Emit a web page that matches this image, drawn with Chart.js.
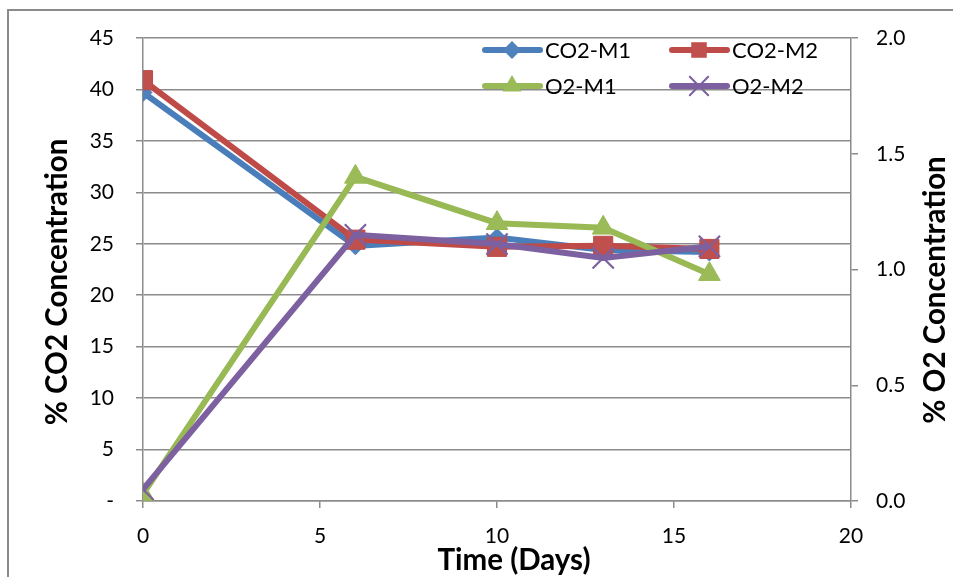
<!DOCTYPE html>
<html>
<head>
<meta charset="utf-8">
<title>CO2 / O2 concentration</title>
<script src="https://cdn.jsdelivr.net/npm/chart.js@4/dist/chart.umd.min.js"></script>
<style>
  html, body { margin: 0; padding: 0; background: #fff; }
  canvas { display: block; }
</style>
</head>
<body>
<canvas id="chart" width="953" height="577"></canvas>
<script>
// data
const days = [0, 6, 10, 13, 16];
const co2M1 = [39.7, 24.8, 25.6, 24.4, 24.2];
const co2M2 = [40.9, 25.4, 24.7, 24.8, 24.5];
const o2M1 = [0.03, 1.40, 1.20, 1.18, 0.98];
const o2M2 = [0.05, 1.15, 1.11, 1.05, 1.10];

const co2Ticks = [0, 5, 10, 15, 20, 25, 30, 35, 40, 45];
const o2Ticks = [0, 0.5, 1.0, 1.5, 2.0];
const dayTicks = [0, 5, 10, 15, 20];

const FONT = "Lato, 'Liberation Sans', sans-serif";
const GRID = '#8c8c8c';

function pts(ys) {
  return days.map((d, i) => ({ x: d, y: ys[i] }));
}

// excel style marker for the legend
function marker(ctx, style, x, y, r) {
  ctx.beginPath();
  if (style === 'rectRot') {
    ctx.moveTo(x, y - r); ctx.lineTo(x + r, y); ctx.lineTo(x, y + r); ctx.lineTo(x - r, y);
    ctx.closePath(); ctx.fill();
  } else if (style === 'rect') {
    const s = r * Math.SQRT1_2;
    ctx.rect(x - s, y - s, 2 * s, 2 * s); ctx.fill();
  } else if (style === 'triangle') {
    ctx.moveTo(x, y - r);
    ctx.lineTo(x + r * Math.sin(Math.PI / 3), y + r / 2);
    ctx.lineTo(x - r * Math.sin(Math.PI / 3), y + r / 2);
    ctx.closePath(); ctx.fill();
  } else {
    const s = r * Math.SQRT1_2;
    ctx.moveTo(x - s, y - s); ctx.lineTo(x + s, y + s);
    ctx.moveTo(x + s, y - s); ctx.lineTo(x - s, y + s);
    ctx.lineWidth = 2; ctx.stroke();
  }
}

const excelLegend = {
  id: 'excelLegend',
  afterDraw(chart) {
    const ctx = chart.ctx;
    const colX = [485, 672];
    const rowY = [50, 86];
    ctx.save();
    ctx.font = '22px ' + FONT;
    ctx.textBaseline = 'middle';
    chart.data.datasets.forEach((ds, i) => {
      const x = colX[i % 2];
      const y = rowY[Math.floor(i / 2)];
      ctx.strokeStyle = ds.borderColor;
      ctx.lineWidth = 6;
      ctx.lineCap = 'round';
      ctx.beginPath(); ctx.moveTo(x, y); ctx.lineTo(x + 55, y); ctx.stroke();
      ctx.fillStyle = ds.pointBackgroundColor;
      ctx.strokeStyle = ds.pointBorderColor;
      const r = ds.pointStyle === 'crossRot' ? 13 : ds.pointStyle === 'rectRot' ? 9 : 11;
      marker(ctx, ds.pointStyle, x + 27, y, r);
      ctx.fillStyle = '#000';
      ctx.fillText(ds.label, x + 60, y + 1);
    });
    ctx.restore();
  }
};

const titlesAndFrame = {
  id: 'titlesAndFrame',
  afterDraw(chart) {
    const ctx = chart.ctx;
    ctx.save();
    ctx.strokeStyle = '#8a8a8a';
    ctx.lineWidth = 2;
    ctx.strokeRect(8, 10, 1000, 700);
    ctx.fillStyle = '#000';
    ctx.font = 'bold 29.5px ' + FONT;
    ctx.textAlign = 'center';
    ctx.textBaseline = 'middle';
    ctx.fillText('Time (Days)', 514, 560);
    ctx.translate(57, 282); ctx.rotate(-Math.PI / 2);
    ctx.fillText('% CO2 Concentration', 0, 0);
    ctx.restore();
    ctx.save();
    ctx.fillStyle = '#000';
    ctx.font = 'bold 29.5px ' + FONT;
    ctx.textAlign = 'center';
    ctx.textBaseline = 'middle';
    ctx.translate(935, 290); ctx.rotate(-Math.PI / 2);
    ctx.fillText('% O2 Concentration', 0, 0);
    ctx.restore();
  }
};

new Chart(document.getElementById('chart'), {
  type: 'line',
  data: {
    datasets: [
      {
        label: 'CO2-M1', data: pts(co2M1), yAxisID: 'y', order: 4,
        borderColor: '#4A7EBB', pointBackgroundColor: '#4F81BD', pointBorderColor: '#4A7EBB',
        pointStyle: 'rectRot', pointRadius: 9, borderWidth: 6, pointBorderWidth: 1
      },
      {
        label: 'CO2-M2', data: pts(co2M2), yAxisID: 'y', order: 3,
        borderColor: '#BE4B48', pointBackgroundColor: '#C0504D', pointBorderColor: '#BE4B48',
        pointStyle: 'rect', pointRadius: 13.5, borderWidth: 6, pointBorderWidth: 1
      },
      {
        label: 'O2-M1', data: pts(o2M1), yAxisID: 'y1', order: 2,
        borderColor: '#98B954', pointBackgroundColor: '#9BBB59', pointBorderColor: '#98B954',
        pointStyle: 'triangle', pointRadius: 12.5, borderWidth: 6, pointBorderWidth: 1
      },
      {
        label: 'O2-M2', data: pts(o2M2), yAxisID: 'y1', order: 1,
        borderColor: '#7D60A0', pointBackgroundColor: '#8064A2', pointBorderColor: '#7D60A0',
        pointStyle: 'crossRot', pointRadius: 15, borderWidth: 6, pointBorderWidth: 2.2
      }
    ]
  },
  options: {
    responsive: false,
    animation: false,
    layout: { padding: { top: 38, left: 0, right: 0, bottom: 0 } },
    plugins: { legend: { display: false }, tooltip: { enabled: false } },
    elements: { line: { tension: 0 } },
    scales: {
      x: {
        type: 'linear', min: 0, max: 20,
        afterFit: (s) => { s.height = 76; },
        afterBuildTicks: (s) => { s.ticks = dayTicks.map(v => ({ value: v })); },
        grid: { drawOnChartArea: false, color: GRID, lineWidth: 1.5, tickLength: 7 },
        border: { color: GRID, width: 1.5 },
        ticks: { color: '#000', font: { family: FONT, size: 21 }, padding: 16 }
      },
      y: {
        position: 'left', min: 0, max: 45,
        afterFit: (s) => { s.width = 143; },
        afterBuildTicks: (s) => { s.ticks = co2Ticks.map(v => ({ value: v })); },
        grid: { color: GRID, lineWidth: 1.5, tickLength: 7 },
        border: { color: GRID, width: 1.5 },
        ticks: {
          color: '#000', font: { family: FONT, size: 21 }, padding: 22,
          callback: (v) => v === 0 ? '-' : v
        }
      },
      y1: {
        position: 'right', min: 0, max: 2,
        afterFit: (s) => { s.width = 102; },
        afterBuildTicks: (s) => { s.ticks = o2Ticks.map(v => ({ value: v })); },
        grid: { drawOnChartArea: false, color: GRID, lineWidth: 1.5, tickLength: 7 },
        border: { color: GRID, width: 1.5 },
        ticks: {
          color: '#000', font: { family: FONT, size: 21 }, padding: 18,
          callback: (v) => v.toFixed(1)
        }
      }
    }
  },
  plugins: [excelLegend, titlesAndFrame]
});
</script>
</body>
</html>
